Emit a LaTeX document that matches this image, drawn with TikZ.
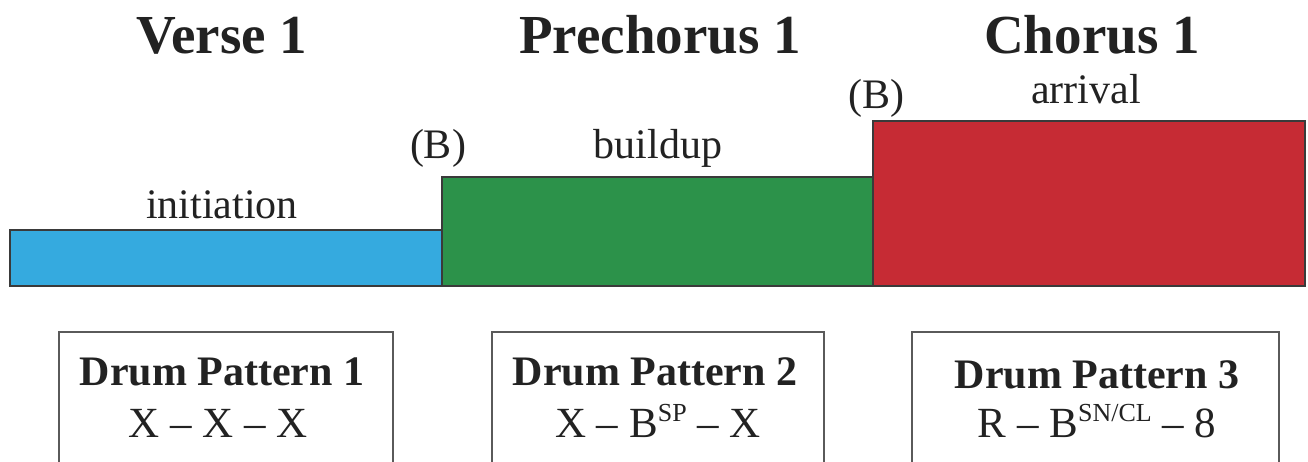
\documentclass[tikz,border=0pt]{standalone}
\usepackage{fontspec}
\setmainfont{Liberation Serif}
\definecolor{barblue}{HTML}{35AADF}
\definecolor{bargreen}{HTML}{2C924A}
\definecolor{barred}{HTML}{C62B34}
\definecolor{edge}{HTML}{3A3A3A}
\definecolor{ink}{HTML}{222222}
\definecolor{boxedge}{HTML}{5A5A5A}
\newcommand{\supr}[1]{\raisebox{0.36em}{\fontsize{26}{26}\selectfont #1}}
\tikzset{
  bar/.style={draw=edge, line width=1.3pt, inner sep=0pt, outer sep=0pt, anchor=south west},
  title/.style={anchor=base, font=\fontsize{55}{60}\selectfont\bfseries, text=ink, inner sep=0pt},
  lab/.style={anchor=base, font=\fontsize{42}{48}\selectfont, text=ink, inner sep=0pt},
  dbox/.style={draw=boxedge, line width=1.3pt, anchor=north, inner sep=0pt, outer sep=0pt, minimum height=170pt},
  dhead/.style={anchor=base, font=\fontsize{42}{48}\selectfont\bfseries, text=ink, inner sep=0pt},
  dpat/.style={anchor=base, font=\fontsize{43}{48}\selectfont, text=ink, inner sep=0pt}
}
\begin{document}
\begin{tikzpicture}[x=1pt, y=-1pt]
\useasboundingbox (0,0) rectangle (1308,461);
\clip (0,0) rectangle (1308,461);
\fill[white] (0,0) rectangle (1308,461);
% titles
\node[title] (t1) at (222,53) {Verse 1};
\node[title] (t2) at (660,53) {Prechorus 1};
\node[title] (t3) at (1092,53) {Chorus 1};
% bars
\node[bar, fill=barblue, minimum width=432pt, minimum height=56pt] (b1) at (10,286) {};
\node[bar, fill=bargreen, minimum width=431pt, minimum height=109pt] (b2) at (442,286) {};
\node[bar, fill=barred, minimum width=432pt, minimum height=165pt] (b3) at (873,286) {};
% labels
\node[lab] (l1) at (222,218) {initiation};
\node[lab] (l2) at (658,158) {buildup};
\node[lab] (l3) at (1086,103) {arrival};
\node[lab] (bb1) at (438,158) {(B)};
\node[lab] (bb2) at (876,108) {(B)};
% drum boxes
\node[dbox, minimum width=334pt] (d1) at (226,332) {};
\node[dbox, minimum width=332pt] (d2) at (658,332) {};
\node[dbox, minimum width=367pt] (d3) at (1095.5,332) {};
\node[dhead] (h1) at (222,385) {Drum Pattern 1};
\node[dpat] (p1) at (218,437) {X \textendash{} X \textendash{} X};
\node[dhead] (h2) at (655,385) {Drum Pattern 2};
\node[dpat] (p2) at (658,437) {X \textendash{} B\supr{SP} \textendash{} X};
\node[dhead] (h3) at (1097,388) {Drum Pattern 3};
\node[dpat] (p3) at (1097,437) {R \textendash{} B\supr{SN/CL} \textendash{} 8};
\end{tikzpicture}
\end{document}
